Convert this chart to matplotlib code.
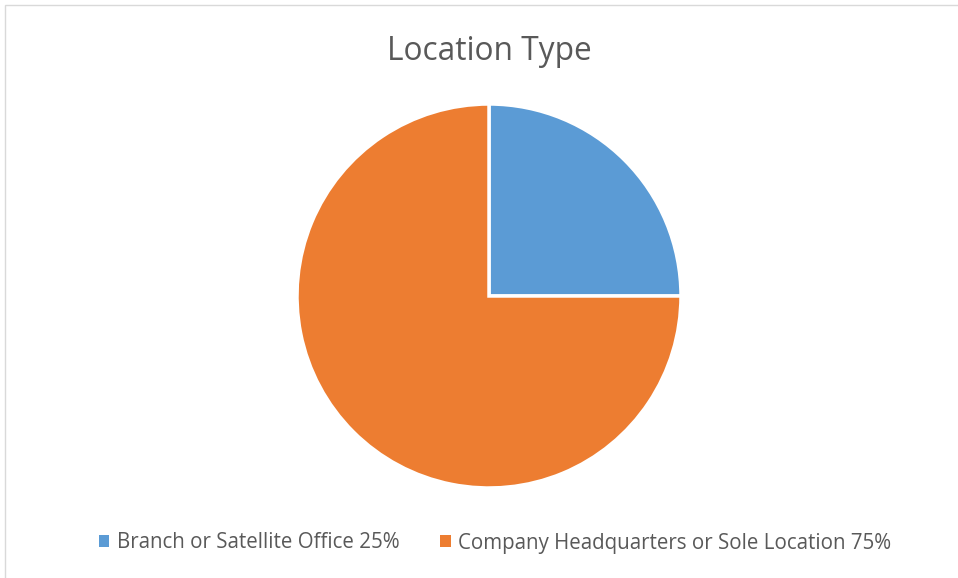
import matplotlib
matplotlib.use("Agg")
import matplotlib.pyplot as plt
from matplotlib.patches import Rectangle, Patch

title = "Location Type"
categories = ["Branch or Satellite Office", "Company Headquarters or Sole Location"]
values = [25, 75]
colors = ["#5B9BD5", "#ED7D31"]

W, H = 958, 578
fig = plt.figure(figsize=(W / 100, H / 100), dpi=100)
fig.patch.set_facecolor("white")

# chart border
fig.patches.append(Rectangle((4.5 / W, -0.1), 1.2, 1 - 5.5 / H + 0.1,
                             transform=fig.transFigure, fill=False,
                             edgecolor="#D9D9D9", linewidth=1.0))

cx, cy, r = 489 / W, 1 - 296 / H, 192
ax = fig.add_axes([cx - r / W, cy - r / H, 2 * r / W, 2 * r / H])
ax.pie(values, colors=colors, startangle=90, counterclock=False,
       wedgeprops=dict(edgecolor="white", linewidth=2.5))
ax.set_xlim(-1, 1)
ax.set_ylim(-1, 1)
ax.set_aspect("equal")
ax.axis("off")

fig.text(489 / W, 1 - 51 / H, title, ha="center", va="center",
         fontsize=22.8, color="#595959", family="Open Sans")

total = sum(values)
labels = [f"{c} {round(v / total * 100)}%" for c, v in zip(categories, values)]
handles = [Patch(facecolor=c, edgecolor="none") for c in colors]
fig.legend(handles, labels, loc="center", bbox_to_anchor=(495 / W, 1 - 543 / H),
           ncol=2, frameon=False, handlelength=0.5, handleheight=0.5,
           handletextpad=0.35, columnspacing=2.0,
           prop=dict(family="Open Sans", size=14.8), labelcolor="#595959")

fig.savefig("out.png", dpi=100, facecolor="white")
